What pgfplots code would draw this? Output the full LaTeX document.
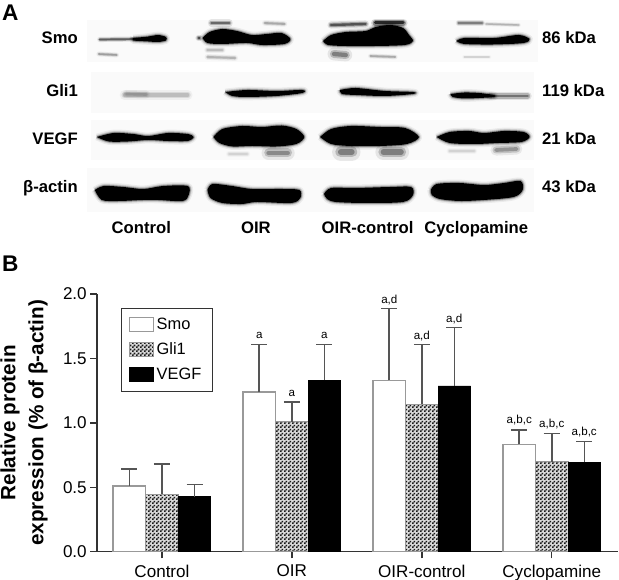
\documentclass[border=0pt]{standalone}
\usepackage{fontspec}
\setmainfont{Liberation Sans}
\usepackage{pgfplots}
\usepackage{pgfplotstable}
\pgfplotsset{compat=1.18}
\usetikzlibrary{patterns}

% fine checker used for the Gli1 bars
\pgfdeclarepatternformonly{checker}{\pgfqpoint{0pt}{0pt}}{\pgfqpoint{3pt}{3pt}}{\pgfqpoint{3pt}{3pt}}{%
  \pgfpathrectangle{\pgfqpoint{0pt}{0pt}}{\pgfqpoint{1.5pt}{1.5pt}}%
  \pgfpathrectangle{\pgfqpoint{1.5pt}{1.5pt}}{\pgfqpoint{1.5pt}{1.5pt}}%
  \pgfusepath{fill}}

\definecolor{axisgray}{HTML}{333333}
\definecolor{errgray}{HTML}{555555}
\definecolor{barline}{HTML}{999999}

\pgfplotstableread{
x smo smoe gli glie vegf vegfe
0 0.51 0.13  0.447 0.236 0.427 0.096
1 1.24 0.367 1.01  0.15  1.332 0.275
2 1.33 0.556 1.144 0.463 1.286 0.453
3 0.833 0.111 0.699 0.219 0.693 0.161
}\bardata

% one blot band: soft halo, then the solid shape
\newcommand{\band}[1]{%
  \addplot[draw=black, opacity=.06, line width=5pt, line join=round, smooth] coordinates {#1};
  \addplot[draw=black, opacity=.12, line width=3pt, line join=round, smooth] coordinates {#1};
  \addplot[draw=black, opacity=.3, line width=1.5pt, line join=round, smooth] coordinates {#1};
  \addplot[draw=none, fill=black, smooth] coordinates {#1};
}
% blurred thin band: #1 points, #2 width in pt, #3 darkness in percent
\newcommand{\smear}[3]{%
  \addplot[draw=black!#3, opacity=.14, line width={(#2*2.4)*1pt}, line cap=round] coordinates {#1};
  \addplot[draw=black!#3, opacity=.35, line width={(#2*1.5)*1pt}, line cap=round] coordinates {#1};
  \addplot[draw=black!#3, opacity=.7, line width={(#2*.8)*1pt}, line cap=round] coordinates {#1};
}
\newcommand{\panel}[4]{%
  \addplot[draw=none, fill=black!2] coordinates {(#1,#3) (#2,#3) (#2,#4) (#1,#4)} --cycle;
}
\newcommand{\blotfont}{\bfseries\fontsize{12.5}{14}\selectfont}

\begin{document}
\begin{tikzpicture}
\useasboundingbox (0,0) rectangle (464.25pt,435pt);

% panel A, in page pixels
\begin{axis}[
  at={(0pt,0pt)}, anchor=south west, scale only axis,
  width=464.25pt, height=435pt,
  xmin=0, xmax=626.5, ymin=0, ymax=580, y dir=reverse,
  hide axis, clip=false,
]
\panel{88}{545}{20}{62}
\panel{92}{540}{72}{113}
\panel{92}{540}{120}{160}
\panel{88}{540}{168}{212}

% Smo
\smear{(101,39.5)(140,39)}{1.6}{75}
\band{(135,38)(150,36.5)(160,35)(168,37)(168,40.5)(160,42)(150,41.5)(135,40.5)(135,38)}
\smear{(100,54)(118,55)}{1.5}{45}
\smear{(201,38)(202,38)}{2}{85}
\band{(205,38)(212,32)(225,29)(240,31)(255,35)(270,34)(285,33)(294,39)(288,44)(265,45)(250,43)(225,44)(210,43)(205,38)}
\smear{(214,23)(232,23)}{2.2}{70}
\smear{(268,23)(288,24)}{1.7}{40}
\smear{(210,50)(225,50)}{2}{30}
\smear{(210,57)(238,58)}{1.8}{35}
\band{(327,41)(335,35)(350,32)(370,31)(380,27)(395,25)(408,28)(414,35)(418,41)(410,45)(380,46)(350,46)(332,45)(327,41)}
\smear{(335,25)(370,24)}{2.2}{80}
\smear{(380,23)(408,23)}{2.8}{100}
\smear{(338,54)(350,55)}{4}{60}
\smear{(375,56)(400,57)}{1.5}{40}
\band{(462,41)(470,38)(500,38)(525,35)(536,39)(530,43)(500,44.5)(470,44)(462,41)}
\smear{(464,23)(488,23)}{1.7}{60}
\smear{(492,24)(525,25)}{1.3}{35}
\smear{(470,57)(495,57)}{1.3}{20}

% Gli1
\smear{(126,95)(190,95)}{3}{30}
\smear{(128,94)(148,94.5)}{2.5}{45}
\band{(228,92)(250,90)(280,91)(306,90)(306,93)(280,96)(250,97)(235,96)(228,92)}
\band{(344,90)(360,88)(390,91)(418,92)(418,94)(390,96)(360,95)(346,94)(344,90)}
\smear{(496,96)(534,96)}{2.6}{65}
\band{(456,94)(470,92.5)(485,93)(500,95)(500,97)(485,98)(470,98.5)(458,97)(456,94)}

% VEGF
\band{(98,137)(115,133)(135,134)(150,136)(170,133)(190,134)(196,137)(190,141)(170,141)(150,140)(130,141.5)(110,141.5)(98,137)}
\smear{(232,154)(250,154)}{2}{20}
\smear{(272,153)(291,153)}{4.5}{55}
\band{(216,137)(225,129)(245,126)(265,127)(285,125.5)(300,129)(308,137)(300,144)(280,146.5)(255,146)(235,146.5)(222,143)(216,137)}
\smear{(345,152)(356,152)}{5.5}{60}
\smear{(388,152)(406,152)}{5}{60}
\band{(324,137)(335,129)(355,126)(385,127)(410,128)(424,137)(412,144)(385,146)(355,146)(335,144)(324,137)}
\smear{(502,150)(523,149)}{3.5}{50}
\smear{(455,151)(480,151)}{1.8}{20}
\band{(442,137)(455,132)(475,131)(490,133)(510,131)(530,132)(536,137)(528,142)(505,143)(480,144)(455,143)(442,137)}

% beta-actin
\band{(96,190)(105,186)(125,187)(145,189)(165,186)(190,186)(191,195)(185,201)(160,200)(145,200)(120,201)(103,200)(96,190)}
\band{(210,190)(215,184)(235,186)(255,189)(285,189)(303,190)(304,198)(295,203)(260,202)(245,204)(225,203)(213,198)(210,190)}
\band{(328,194)(335,188)(360,188)(395,187)(416,187)(418,195)(408,202)(370,203)(340,202)(331,199)(328,194)}
\band{(436,190)(442,184)(465,183)(490,185)(510,183)(527,181)(529,190)(520,197)(490,200)(465,201)(445,199)(437,195)(436,190)}

\node[anchor=base west, inner sep=0pt, font=\bfseries\fontsize{17}{17}\selectfont] at (axis cs:2,21) {A};
\node[anchor=base west, inner sep=0pt, font=\bfseries\fontsize{17}{17}\selectfont] at (axis cs:2,272) {B};

\node[anchor=base east, inner sep=0pt, font=\blotfont] at (axis cs:79,44) {Smo};
\node[anchor=base east, inner sep=0pt, font=\blotfont] at (axis cs:79,97) {Gli1};
\node[anchor=base east, inner sep=0pt, font=\blotfont] at (axis cs:79,145) {VEGF};
\node[anchor=base east, inner sep=0pt, font=\blotfont] at (axis cs:79,193) {β-actin};

\node[anchor=base west, inner sep=0pt, font=\blotfont] at (axis cs:548.5,44) {86 kDa};
\node[anchor=base west, inner sep=0pt, font=\blotfont] at (axis cs:548.5,97) {119 kDa};
\node[anchor=base west, inner sep=0pt, font=\blotfont] at (axis cs:548.5,145) {21 kDa};
\node[anchor=base west, inner sep=0pt, font=\blotfont] at (axis cs:548.5,193) {43 kDa};

\node[anchor=base, inner sep=0pt, font=\blotfont] at (axis cs:143,234) {Control};
\node[anchor=base, inner sep=0pt, font=\blotfont] at (axis cs:259,234) {OIR};
\node[anchor=base, inner sep=0pt, font=\blotfont] at (axis cs:372,234) {OIR-control};
\node[anchor=base, inner sep=0pt, font=\blotfont] at (axis cs:482,234) {Cyclopamine};
\end{axis}

% panel B
\begin{axis}[
  at={(72.75pt,21.2pt)}, anchor=south west, scale only axis,
  width=390.75pt, height=193.3pt,
  xmin=-0.5, xmax=3.51, ymin=0, ymax=2,
  axis lines=left, axis line style={-, draw=axisgray, line width=1.1pt},
  clip=false,
  ybar=0pt, bar width=24.45pt,
  xtick={0,1,2,3},
  xticklabels={Control, OIR, OIR-control, Cyclopamine},
  ytick={0,0.5,1,1.5,2},
  tick align=outside, major tick length=5pt,
  tick style={draw=axisgray, line width=1.1pt},
  tick label style={font=\fontsize{12.8}{14}\selectfont, /pgf/number format/assume math mode=true},
  xticklabel style={inner sep=0pt, yshift=-4.5pt},
  yticklabel style={inner sep=0pt, xshift=-2.5pt, /pgf/number format/fixed, /pgf/number format/fixed zerofill, /pgf/number format/precision=1},
  ylabel={Relative protein\\expression (\% of β-actin)},
  ylabel style={at={(axis description cs:-0.14,0.5)}, anchor=center, align=center,
    font=\bfseries\fontsize{15.5}{21}\selectfont},
  error bars/y dir=plus, error bars/y explicit,
  error bars/error bar style={draw=errgray, line width=1.2pt},
  error bars/error mark options={draw=errgray, rotate=90, mark size=6pt, line width=1.2pt},
  legend style={at={(0.046,0.942)}, anchor=north west, draw=axisgray, line width=.7pt,
    font=\fontsize{12.3}{14}\selectfont, row sep=4.5pt, inner xsep=6pt, inner ysep=5pt, outer sep=0pt},
  legend cell align=left,
  legend image code/.code={\draw[#1, line width=.8pt] (0pt,-5pt) rectangle (18pt,5.5pt);},
]
\addplot[fill=white, draw=barline, line width=1.1pt] table[x=x, y=smo, y error=smoe] {\bardata};
\addplot[fill=black!15, draw=barline, line width=.6pt, postaction={pattern=checker, pattern color=black!90}] table[x=x, y=gli, y error=glie] {\bardata};
\addplot[fill=black, draw=black, line width=.6pt] table[x=x, y=vegf, y error=vegfe] {\bardata};
\legend{Smo, Gli1, VEGF}

\begin{scope}[every node/.style={font=\fontsize{8.7}{10}\selectfont}]
\node at (axis cs:0.75,1.677) {a};
\node at (axis cs:1,1.23) {a};
\node at (axis cs:1.25,1.677) {a};
\node at (axis cs:1.75,1.956) {a,d};
\node at (axis cs:2,1.677) {a,d};
\node at (axis cs:2.25,1.809) {a,d};
\node at (axis cs:2.75,1.02) {a,b,c};
\node at (axis cs:3,0.994) {a,b,c};
\node at (axis cs:3.25,0.93) {a,b,c};
\end{scope}
\end{axis}
\end{tikzpicture}
\end{document}
